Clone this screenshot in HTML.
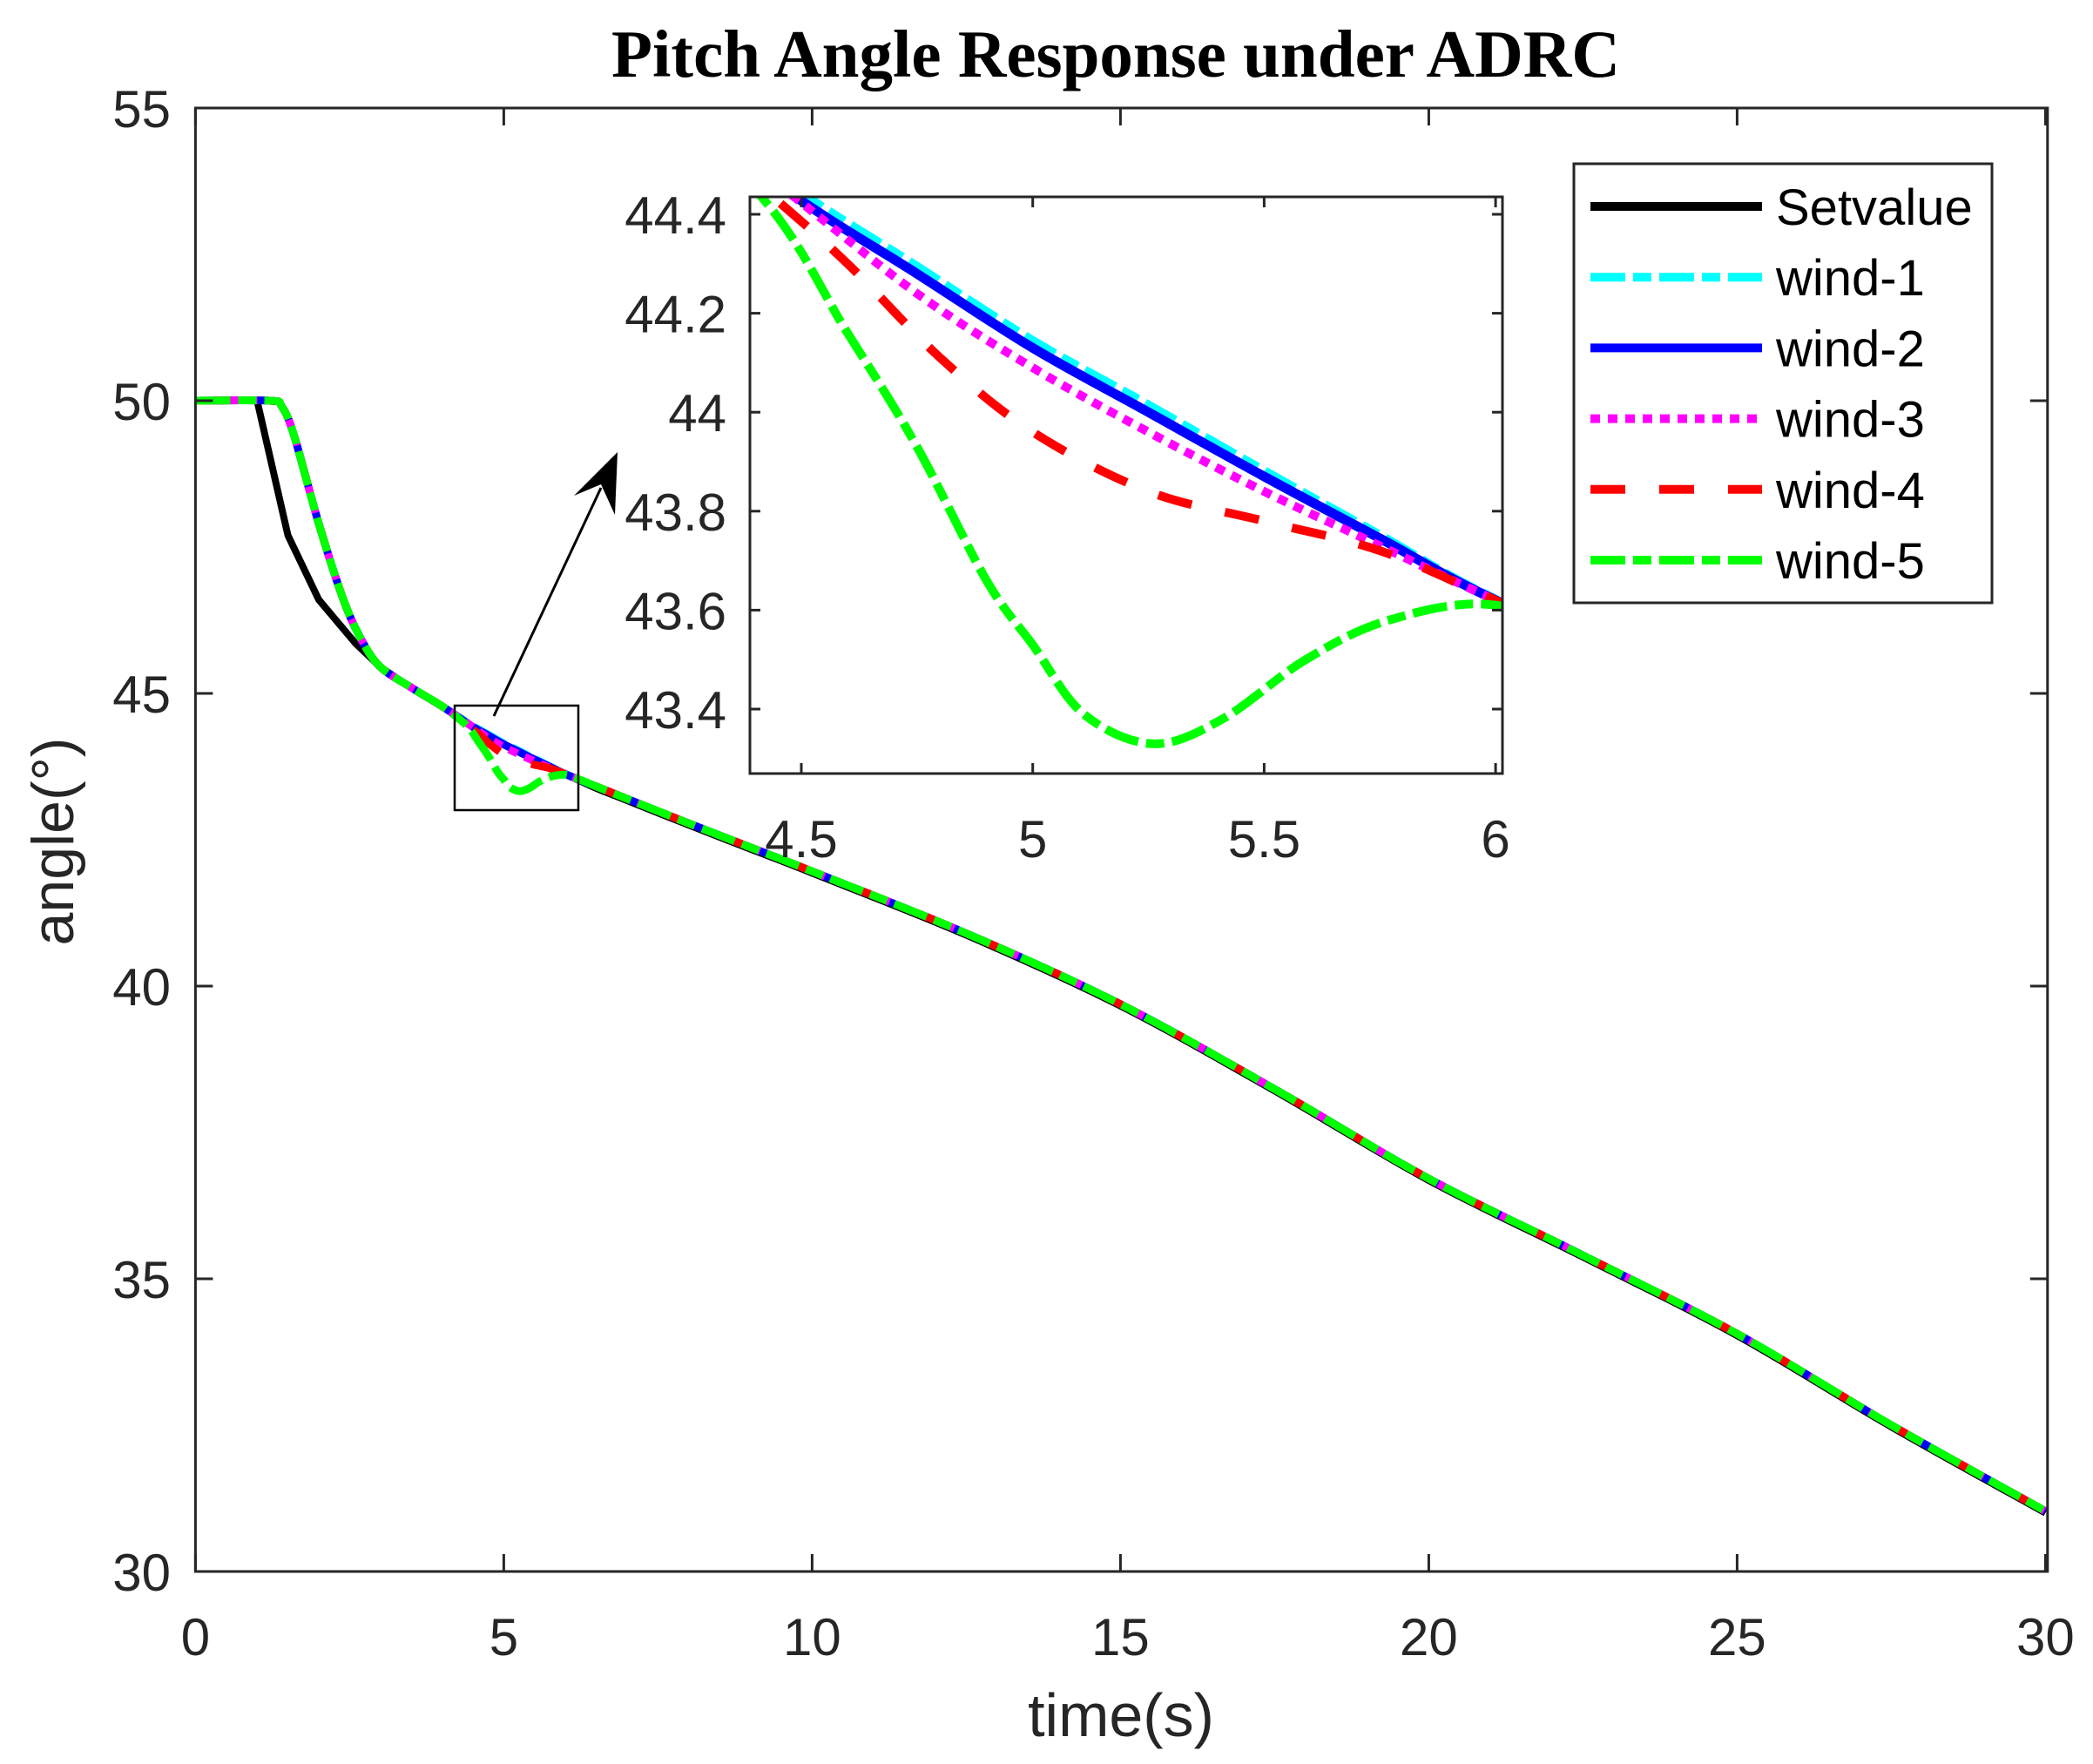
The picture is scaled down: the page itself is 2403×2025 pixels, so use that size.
<!DOCTYPE html>
<html><head><meta charset="utf-8"><style>
html,body{margin:0;padding:0;background:#fff;}
svg{display:block;}
text{font-family:"Liberation Sans",Arial,sans-serif;fill:#262626;}
</style></head><body>
<svg id="s" width="2403" height="2025" viewBox="0 0 2403 2025" xmlns="http://www.w3.org/2000/svg">
<defs>
<clipPath id="cm"><rect x="224" y="124" width="2126" height="1681"/></clipPath>
<clipPath id="ci"><rect x="861" y="226" width="864" height="662"/></clipPath>
</defs>
<rect width="2403" height="2025" fill="#fff"/>
<text x="1281" y="88" text-anchor="middle" style="font-family:'Liberation Serif',serif;font-weight:bold;font-size:77px;fill:#000">Pitch Angle Response under ADRC</text>
<g id="main" clip-path="url(#cm)"></g>
<g id="axm" stroke="#262626" stroke-width="3" fill="none"></g>
<g id="lblm" font-size="60"></g>
<text x="1287" y="1993" text-anchor="middle" font-size="70">time(s)</text>
<text transform="translate(84,966) rotate(-90)" text-anchor="middle" font-size="68">angle(°)</text>
<rect x="522" y="810" width="142" height="120" fill="none" stroke="#000" stroke-width="2.5"/>
<line x1="567" y1="822" x2="690" y2="560" stroke="#000" stroke-width="3"/>
<polygon points="709,519 706,591 690,556 659,569" fill="#000"/>
<rect x="861" y="226" width="864" height="662" fill="#fff"/>
<g id="ins" clip-path="url(#ci)"></g>
<g id="axi" stroke="#262626" stroke-width="3" fill="none"></g>
<g id="lbli" font-size="60"></g>
<rect x="1807" y="188" width="480" height="504" fill="#fff" stroke="#262626" stroke-width="3"/>
<g id="leg"></g>
</svg>
<script>
const NS="http://www.w3.org/2000/svg";
function el(p,tag,a,txt){const e=document.createElementNS(NS,tag);for(const k in a)e.setAttribute(k,a[k]);if(txt!==undefined)e.textContent=txt;p.appendChild(e);return e;}
const $=id=>document.getElementById(id);
const MX=t=>224.4+t*70.8, MY=v=>124+(55-v)*67.2;
const IX=t=>920+(t-4.5)*531.4, IY=v=>246+(44.4-v)*568;
function cr(pts){
 let d="M"+pts[0][0].toFixed(1)+","+pts[0][1].toFixed(1);
 for(let i=0;i<pts.length-1;i++){
  const p0=pts[i-1]||pts[i],p1=pts[i],p2=pts[i+1],p3=pts[i+2]||p2;
  const c1=[p1[0]+(p2[0]-p0[0])/6,p1[1]+(p2[1]-p0[1])/6];
  const c2=[p2[0]-(p3[0]-p1[0])/6,p2[1]-(p3[1]-p1[1])/6];
  d+="C"+c1.map(n=>n.toFixed(1))+" "+c2.map(n=>n.toFixed(1))+" "+p2.map(n=>n.toFixed(1));
 }
 return d;
}
const head=[[0,50],[1.2,50],[1.4,49.9],[1.6,49.4],[2,47.9],[2.4,46.6],[2.7,45.9],[3,45.45],[3.5,45.1],[4,44.78]];
const tail=[[6.5,43.41],[7,43.2],[8,42.78],[9,42.37],[10,41.96],[12.5,40.9],[15,39.69],[17.5,38.24],[20,36.71],[22.5,35.4],[25,34.06],[27.5,32.5],[30,31.03]];
const mids={
 w0:[[4.45,44.475],[4.75,44.295],[5,44.145],[5.25,44.015],[5.5,43.882],[5.75,43.752],[6,43.622]],
 w1:[[4.45,44.46],[4.75,44.28],[5,44.13],[5.25,44.0],[5.5,43.87],[5.75,43.745],[6,43.62]],
 w3:[[4.45,44.46],[4.75,44.24],[5,44.09],[5.25,43.96],[5.5,43.84],[5.75,43.73],[6,43.62]],
 w4:[[4.42,44.45],[4.6,44.3],[4.8,44.11],[5,43.96],[5.25,43.84],[5.5,43.78],[5.75,43.72],[6,43.62]],
 w5:[[4.4,44.45],[4.6,44.16],[4.75,43.93],[4.9,43.66],[5,43.53],[5.11,43.39],[5.26,43.33],[5.41,43.38],[5.59,43.5],[5.77,43.58],[6,43.61],[6.25,43.52]]
};
const series=[
 {k:"w0",c:"#00ffff",da:"40 9 21 9"},
 {k:"w1",c:"#0000ff",da:null},
 {k:"w3",c:"#ff00ff",da:"11 9"},
 {k:"w4",c:"#ff0000",da:"40 39"},
 {k:"w5",c:"#00ff00",da:"40 9 21 9"}
];
// setvalue: polyline start, smooth tail
const setA=[[0,50],[1,50],[1.5,47.7],[2,46.6],[2.6,45.85],[3,45.45]];
const setB=[[3,45.45],[3.5,45.1],[4,44.78],[4.45,44.46],[5,44.13],[5.5,43.87],[6,43.62]].concat(tail.map(p=>[p[0],p[1]-0.03]));
el($("main"),"polyline",{points:setA.map(p=>MX(p[0]).toFixed(1)+","+MY(p[1]).toFixed(1)).join(" "),stroke:"#000","stroke-width":8,fill:"none","stroke-linejoin":"round"});
el($("main"),"path",{d:cr(setB.map(p=>[MX(p[0]),MY(p[1])])),stroke:"#000","stroke-width":8,fill:"none"});
series.forEach(s=>{
 const pts=head.concat(mids[s.k],tail).map(p=>[MX(p[0]),MY(p[1])]);
 const a={d:cr(pts),stroke:s.c,"stroke-width":9,fill:"none"};
 if(s.da)a["stroke-dasharray"]=s.da;
 el($("main"),"path",a);
});
series.forEach(s=>{
 const pts=[[4.0,44.78]].concat(mids[s.k],[[6.5,43.41]]).map(p=>[IX(p[0]),IY(p[1])]);
 const a={d:cr(pts),stroke:s.c,"stroke-width":s.c=="#0000ff"?11:10,fill:"none"};
 if(s.da)a["stroke-dasharray"]=s.da;
 el($("ins"),"path",a);
});
const am=$("axm");
el(am,"rect",{x:224.4,y:124,width:2126.4,height:1680});
for(let t=0;t<=30;t+=5){const x=MX(t);
 el(am,"line",{x1:x,y1:1804,x2:x,y2:1784});el(am,"line",{x1:x,y1:124,x2:x,y2:144});
 el($("lblm"),"text",{x:x,y:1900,"text-anchor":"middle"},t);}
for(let v=30;v<=55;v+=5){const y=MY(v);
 el(am,"line",{x1:224.4,y1:y,x2:244.4,y2:y});el(am,"line",{x1:2350.8,y1:y,x2:2330.8,y2:y});
 el($("lblm"),"text",{x:196,y:y+22,"text-anchor":"end"},v);}
const ai=$("axi");
el(ai,"rect",{x:861,y:226,width:864,height:662});
[4.5,5,5.5,6].forEach(t=>{const x=IX(t);
 el(ai,"line",{x1:x,y1:888,x2:x,y2:876});el(ai,"line",{x1:x,y1:226,x2:x,y2:238});
 el($("lbli"),"text",{x:x,y:984,"text-anchor":"middle"},t);});
[43.4,43.6,43.8,44,44.2,44.4].forEach(v=>{const y=IY(v);
 el(ai,"line",{x1:861,y1:y,x2:873,y2:y});el(ai,"line",{x1:1725,y1:y,x2:1713,y2:y});
 el($("lbli"),"text",{x:834,y:y+22,"text-anchor":"end"},(Math.round(v*10)/10).toString());});
const lg=$("leg");
const L=[["Setvalue","#000",null],["wind-1","#00ffff","40 9 21 9"],["wind-2","#0000ff",null],["wind-3","#ff00ff","11 9"],["wind-4","#ff0000","40 39"],["wind-5","#00ff00","40 9 21 9"]];
L.forEach((r,i)=>{const y=237+i*81.2;
 const a={x1:1826,y1:y,x2:2023,y2:y,stroke:r[1],"stroke-width":10};
 if(r[2])a["stroke-dasharray"]=r[2];
 el(lg,"line",a);
 el(lg,"text",{x:2039,y:y+21,"font-size":58,style:"fill:#000"},r[0]);});
</script>
</body></html>
